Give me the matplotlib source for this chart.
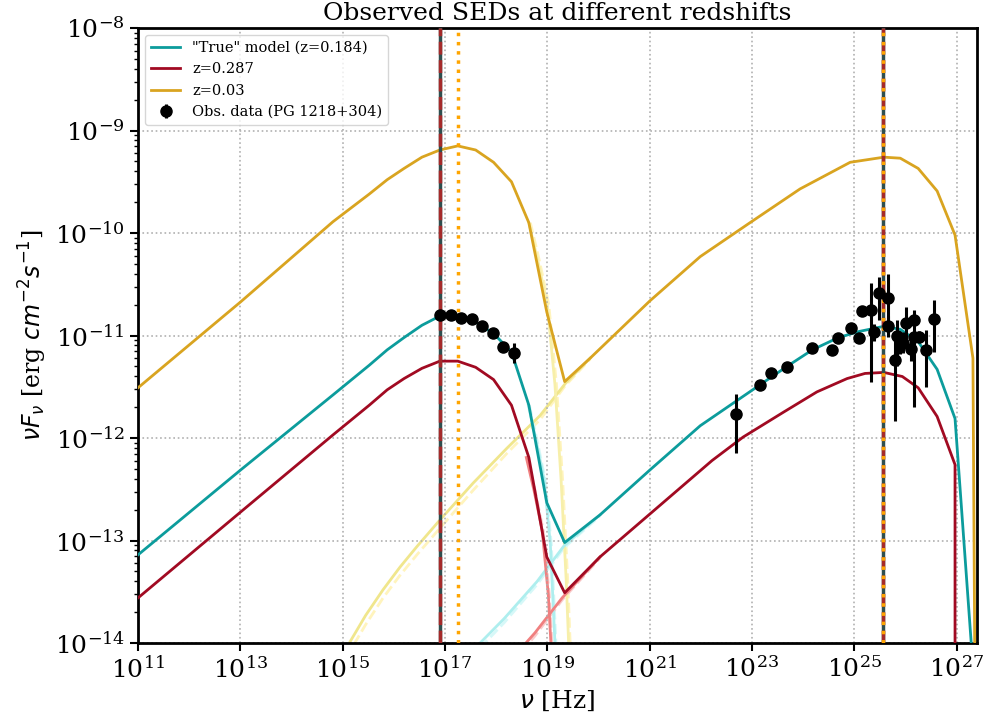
import numpy as np
import matplotlib
matplotlib.use('Agg')
import matplotlib.pyplot as plt
from matplotlib.ticker import NullLocator

plt.rcParams['font.family'] = 'serif'

# total SED models, log10(nu [Hz]) / log10(nuFnu [erg cm-2 s-1])
true_lognu = [11.0, 13.01, 14.81, 15.52, 15.87, 16.20, 16.55, 16.90, 17.25, 17.60, 17.95,
              18.30, 18.64, 18.99, 19.34, 20.03, 21.01, 21.99, 23.16, 23.69, 24.18, 24.69,
              25.10, 25.58, 25.90, 26.25, 26.62, 26.97, 27.33]
true_logf = [-13.14, -12.31, -11.58, -11.29, -11.14, -11.02, -10.90, -10.81, -10.80, -10.87,
             -10.98, -11.16, -11.68, -12.63, -13.02, -12.75, -12.31, -11.88, -11.48, -11.30,
             -11.14, -11.02, -10.96, -10.91, -10.94, -11.06, -11.33, -11.81, -14.30]

z287_lognu = [11.0, 13.01, 14.81, 15.52, 15.87, 16.20, 16.55, 16.90, 17.25, 17.60, 17.95,
              18.30, 18.64, 18.99, 19.34, 20.03, 22.22, 22.83, 23.61, 24.27, 24.86, 25.21,
              25.58, 25.94, 26.25, 26.62, 26.97, 26.97]
z287_logf = [-13.56, -12.72, -11.97, -11.68, -11.53, -11.42, -11.32, -11.25, -11.25, -11.31,
             -11.43, -11.68, -12.19, -13.16, -13.51, -13.16, -12.22, -11.99, -11.75, -11.55,
             -11.42, -11.37, -11.36, -11.40, -11.51, -11.79, -12.26, -14.50]

z003_lognu = [11.0, 13.01, 14.81, 15.52, 15.87, 16.20, 16.55, 16.90, 17.25, 17.60, 17.95,
              18.30, 18.64, 18.99, 19.34, 19.84, 21.01, 21.99, 22.96, 23.94, 24.92, 25.58,
              25.90, 26.25, 26.62, 26.97, 27.32, 27.36]
z003_logf = [-11.51, -10.67, -9.89, -9.62, -9.48, -9.37, -9.26, -9.19, -9.15, -9.19, -9.31,
             -9.50, -9.90, -10.77, -11.45, -11.22, -10.66, -10.23, -9.90, -9.57, -9.31, -9.26,
             -9.27, -9.37, -9.59, -10.02, -11.22, -14.50]

# single components (synchrotron / inverse Compton), solid and dashed variants
z003_syn_lognu = [18.64, 18.82, 19.00, 19.15, 19.27, 19.37, 19.43]
z003_syn_logf = [-9.90, -10.28, -10.70, -11.48, -12.41, -13.39, -14.17]
z003_syn_d_lognu = [18.67, 18.85, 19.03, 19.18, 19.30, 19.40, 19.46]
z003_syn_d_logf = [-9.90, -10.28, -10.70, -11.48, -12.41, -13.39, -14.17]
z003_ic_lognu = [14.93, 15.13, 15.45, 15.79, 16.12, 16.45, 16.90, 17.55, 18.21, 18.86, 19.35, 19.84]
z003_ic_logf = [-14.17, -14.00, -13.73, -13.48, -13.26, -13.06, -12.80, -12.44, -12.10, -11.78,
                -11.47, -11.22]
z003_ic_d_lognu = [14.93, 15.13, 15.45, 15.79, 16.12, 16.45, 16.90, 17.55, 18.21, 18.86, 19.35, 19.84]
z003_ic_d_logf = [-14.26, -14.09, -13.82, -13.56, -13.34, -13.14, -12.88, -12.51, -12.15, -11.82,
                  -11.49, -11.23]

true_syn_lognu = [18.63, 18.78, 18.94, 19.06, 19.15, 19.19]
true_syn_logf = [-11.68, -12.02, -12.41, -13.04, -14.00, -14.46]
true_syn_d_lognu = [18.65, 18.80, 18.96, 19.08, 19.17, 19.21]
true_syn_d_logf = [-11.68, -12.02, -12.41, -13.04, -14.00, -14.46]
true_ic_lognu = [17.49, 18.16, 18.80, 19.33, 20.03]
true_ic_logf = [-14.10, -13.76, -13.40, -13.05, -12.75]
true_ic_d_lognu = [17.49, 18.16, 18.80, 19.33, 20.03]
true_ic_d_logf = [-14.15, -13.80, -13.43, -13.07, -12.76]

z287_syn_lognu = [18.59, 18.74, 18.90, 19.02, 19.07, 19.11]
z287_syn_logf = [-12.19, -12.51, -12.90, -13.53, -14.00, -14.46]
z287_syn_d_lognu = [18.61, 18.76, 18.92, 19.04, 19.09, 19.13]
z287_syn_d_logf = [-12.19, -12.51, -12.90, -13.53, -14.00, -14.46]
z287_ic_lognu = [18.12, 18.76, 19.29, 20.03]
z287_ic_logf = [-14.26, -13.90, -13.56, -13.16]
z287_ic_d_lognu = [18.12, 18.76, 19.29, 20.03]
z287_ic_d_logf = [-14.30, -13.93, -13.58, -13.17]

# peak frequencies
peak_true = [16.90, 25.57]
peak_z287 = [16.90, 25.57]
peak_z003 = [17.26, 25.57]

# observed data PG 1218+304
obs_lognu = [16.90, 17.12, 17.32, 17.53, 17.73, 17.94, 18.14, 18.35,
             22.69, 23.16, 23.38, 23.69, 24.18, 24.57, 24.69, 24.94, 25.10, 25.16,
             25.33, 25.39, 25.49, 25.66, 25.66, 25.80, 25.84, 25.90, 25.96, 26.02,
             26.11, 26.17, 26.17, 26.27, 26.41, 26.56]
obs_logf = [-10.80, -10.80, -10.83, -10.84, -10.91, -10.98, -11.11, -11.17,
            -11.77, -11.48, -11.37, -11.31, -11.12, -11.14, -11.02, -10.93, -11.02, -10.76,
            -10.75, -10.97, -10.59, -10.63, -10.91, -11.24, -11.00, -11.08, -11.07, -10.88,
            -11.13, -10.85, -11.01, -11.01, -11.14, -10.84]
obs_err_lo = [0.02, 0.05, 0.02, 0.02, 0.02, 0.02, 0.02, 0.10,
              0.38, 0.03, 0.03, 0.03, 0.03, 0.03, 0.03, 0.03, 0.03, 0.05,
              0.70, 0.08, 0.26, 0.24, 0.10, 0.59, 0.30, 0.10, 0.10, 0.23,
              0.12, 0.85, 0.05, 0.05, 0.36, 0.32]
obs_err_hi = [0.02, 0.05, 0.02, 0.02, 0.02, 0.02, 0.02, 0.10,
              0.20, 0.03, 0.03, 0.03, 0.03, 0.03, 0.03, 0.03, 0.03, 0.05,
              0.26, 0.08, 0.16, 0.23, 0.10, 0.22, 0.15, 0.10, 0.10, 0.16,
              0.12, 0.10, 0.05, 0.05, 0.19, 0.19]

c_true = '#0c9c9c'
c_z287 = '#a10a22'
c_z003 = '#d9a420'


def p(lognu, logf):
    return 10**np.array(lognu), 10**np.array(logf)


fig = plt.figure(figsize=(9.9, 7.26), dpi=100)
ax = fig.add_subplot(111)
fig.subplots_adjust(left=0.1394, right=0.9869, bottom=0.1143, top=0.9614)

# faint components
ax.plot(*p(z003_ic_d_lognu, z003_ic_d_logf), color='#fff4bd', lw=2, ls='--', zorder=1)
ax.plot(*p(z003_syn_d_lognu, z003_syn_d_logf), color='#fff4bd', lw=2, ls='--', zorder=1)
ax.plot(*p(true_ic_d_lognu, true_ic_d_logf), color='#d6f8f8', lw=2, ls='--', zorder=1)
ax.plot(*p(true_syn_d_lognu, true_syn_d_logf), color='#d6f8f8', lw=2, ls='--', zorder=1)
ax.plot(*p(z287_ic_d_lognu, z287_ic_d_logf), color='#f9cccc', lw=2, ls='--', zorder=1)
ax.plot(*p(z287_syn_d_lognu, z287_syn_d_logf), color='#f9cccc', lw=2, ls='--', zorder=1)
ax.plot(*p(z003_ic_lognu, z003_ic_logf), color='#f0e68c', lw=2, zorder=1.5)
ax.plot(*p(z003_syn_lognu, z003_syn_logf), color='#f7efaa', lw=2, zorder=1.5)
ax.plot(*p(true_ic_lognu, true_ic_logf), color='#aeeeee', lw=2, zorder=1.5)
ax.plot(*p(true_syn_lognu, true_syn_logf), color='#aeeeee', lw=2, zorder=1.5)
ax.plot(*p(z287_ic_lognu, z287_ic_logf), color='#f08080', lw=2, zorder=1.5)
ax.plot(*p(z287_syn_lognu, z287_syn_logf), color='#f08080', lw=2, zorder=1.5)

# totals
ax.plot(*p(true_lognu, true_logf), color=c_true, lw=2, label='"True" model (z=0.184)', zorder=3)
ax.plot(*p(z287_lognu, z287_logf), color=c_z287, lw=2, label='z=0.287', zorder=3)
ax.plot(*p(z003_lognu, z003_logf), color=c_z003, lw=2, label='z=0.03', zorder=3)

# peak markers
for v in peak_true:
    ax.axvline(10**v, color='darkslategray', lw=2.5, zorder=4)
for v in peak_z287:
    ax.axvline(10**v, color='brown', lw=2.5, ls='--', zorder=4.1)
for v in peak_z003:
    ax.axvline(10**v, color='orange', lw=2.5, ls=':', zorder=4.2)

# data
f_obs = 10**np.array(obs_logf)
yerr = [f_obs - 10**(np.array(obs_logf) - np.array(obs_err_lo)),
        10**(np.array(obs_logf) + np.array(obs_err_hi)) - f_obs]
ax.errorbar(10**np.array(obs_lognu), f_obs, yerr=yerr, fmt='o', color='black',
            ms=8, elinewidth=2.2, capsize=0, label='Obs. data (PG 1218+304)', zorder=5)

ax.set_xscale('log')
ax.set_yscale('log')
ax.set_xlim(1e11, 10**27.4)
ax.set_ylim(1e-14, 1e-8)
ax.set_xticks([10.0**k for k in range(11, 28, 2)])
ax.xaxis.set_minor_locator(NullLocator())
ax.grid(True, which='major', ls=':', color='#b0b0b0', lw=1.2)
ax.tick_params(which='major', labelsize=18, length=6, width=1.5)
ax.tick_params(which='minor', length=3, width=1)
for s in ax.spines.values():
    s.set_linewidth(2)

ax.set_xlabel(r'$\nu$ [Hz]', fontsize=18)
ax.set_ylabel(r'$\nu F_{\nu}$ [erg $cm^{-2} s^{-1}$]', fontsize=17)
ax.set_title('Observed SEDs at different redshifts', fontsize=18)
ax.legend(loc='upper left', fontsize=10.5)

plt.savefig('out.png', dpi=100)
